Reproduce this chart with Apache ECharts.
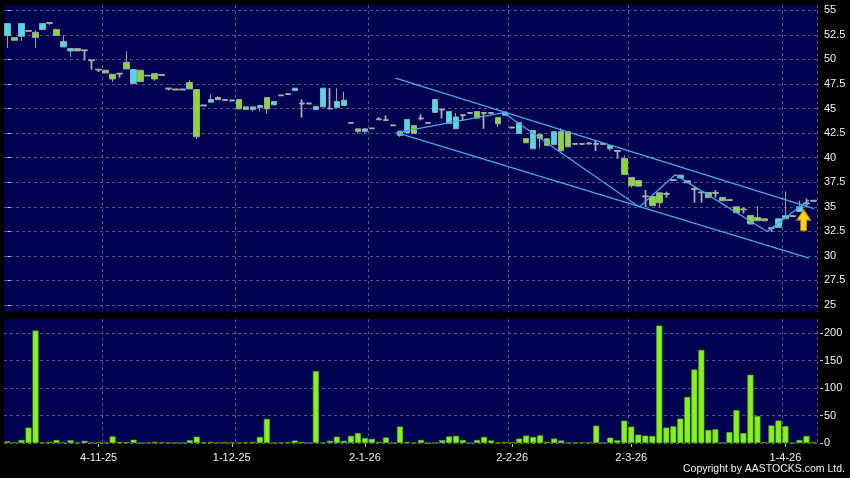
<!DOCTYPE html>
<html><head><meta charset="utf-8">
<script src="https://cdn.jsdelivr.net/npm/echarts@6/dist/echarts.min.js"></script>
<style>html,body{margin:0;padding:0;background:#000;}#c{width:850px;height:478px;}</style>
</head><body><div id="c"></div>
<script>
// [open, close, low, high]
const candles = [
[52.43,53.65,51.17,53.65],[52.22,51.95,51.95,52.22],[52.36,53.65,51.88,53.65],[52.90,52.90,52.90,52.90],
[52.76,52.22,51.17,52.97],[53.04,53.65,53.04,53.65],[53.71,53.71,53.55,53.71],[53.04,52.43,52.43,53.04],
[51.27,51.82,51.27,52.46],[50.86,51.10,50.25,51.10],[51.10,50.86,50.86,51.10],[50.93,50.93,49.92,50.93],
[49.90,49.90,48.97,49.90],[48.97,48.97,48.73,48.97],[48.90,48.62,48.62,48.90],[48.49,48.01,47.71,48.49],
[48.56,48.56,48.16,48.56],[49.71,49.03,49.03,50.83],[47.55,48.97,47.55,48.97],[48.90,47.75,47.75,48.90],
[48.36,48.36,48.36,48.36],[48.56,48.01,47.81,48.56],[48.42,48.42,48.42,48.42],[47.04,47.04,46.86,47.04],
[46.94,46.94,46.94,46.94],[46.94,46.94,46.94,46.94],[47.65,47.00,47.00,47.88],[46.94,42.12,41.91,46.94],
[45.31,45.31,45.31,45.31],[45.64,45.92,45.64,46.43],[46.12,45.90,45.90,46.25],[45.88,45.88,45.88,45.88],
[45.82,45.82,45.82,45.82],[45.92,44.96,44.96,45.92],[45.17,44.90,44.90,45.17],[44.90,45.17,44.70,45.17],
[45.11,45.31,44.70,45.31],[46.12,44.96,44.50,46.12],[45.37,45.72,45.37,45.72],[46.33,46.33,46.33,46.33],
[46.46,46.46,46.46,46.46],[46.83,47.07,46.83,47.07],[45.51,45.51,44.09,45.92],[45.51,45.51,45.51,45.51],
[44.90,45.21,44.90,45.21],[45.17,47.07,45.17,47.07],[45.00,45.00,45.00,47.07],[45.11,45.72,45.11,47.07],
[45.31,45.85,45.31,46.73],[43.55,43.55,43.55,43.55],[42.93,42.67,42.46,42.93],[42.67,42.93,42.46,42.93],
[42.97,42.97,42.97,42.97],[43.90,43.90,43.90,44.10],[43.81,43.81,43.81,44.29],[43.28,43.28,43.28,43.28],
[42.70,42.26,42.12,42.70],[42.52,43.89,42.52,43.89],[43.28,42.46,42.46,43.28],[43.99,43.99,43.81,44.39],
[43.55,43.55,43.55,43.55],[44.60,45.92,44.60,45.92],[44.90,44.90,43.99,44.90],[43.48,44.70,43.48,44.70],
[42.93,44.15,42.93,44.56],[44.32,44.32,43.81,44.32],[44.56,44.56,44.56,44.56],[44.70,44.02,44.02,44.70],
[44.56,44.56,42.95,44.56],[44.56,44.56,44.56,44.56],[44.09,43.44,43.13,44.09],[44.32,44.65,44.32,44.65],
[43.07,43.07,43.07,43.07],[42.46,43.58,42.46,43.58],[41.95,41.51,41.51,41.95],[40.90,42.77,40.90,42.77],
[42.37,41.95,40.94,42.37],[41.93,41.24,41.24,41.93],[41.33,42.64,41.33,42.64],[42.66,40.69,40.69,43.00],
[42.66,41.10,41.10,42.66],[41.40,41.40,41.40,41.40],[41.40,41.40,41.40,41.40],[41.44,41.44,41.44,41.60],
[41.40,41.40,40.69,41.78],[41.40,41.40,41.40,41.40],[40.90,41.24,40.69,41.24],[40.69,40.69,39.92,40.69],
[39.92,38.29,38.29,40.22],[37.99,37.15,36.97,37.99],[37.68,37.10,37.10,37.68],[36.05,36.05,35.00,36.70],
[36.05,35.11,35.11,36.05],[36.42,35.40,34.95,36.42],[36.31,36.31,35.95,36.52],[37.71,37.71,37.71,37.71],
[37.92,38.22,37.92,38.22],[37.44,37.64,37.44,37.64],[36.80,36.80,35.44,36.97],[36.46,36.46,35.44,36.46],
[36.46,35.95,35.95,36.46],[36.42,36.42,35.95,36.70],[35.95,35.61,35.61,35.95],[35.68,35.68,35.68,35.68],
[35.00,34.39,34.39,35.00],[34.73,34.73,34.33,34.94],[34.12,33.24,33.24,34.12],[33.92,33.57,33.57,35.07],
[33.78,33.57,33.57,33.78],[32.83,32.83,32.42,32.83],[32.90,33.78,32.90,33.78],[33.78,34.08,33.78,36.56],
[34.05,34.05,34.05,34.05],[34.53,35.00,34.53,35.61],[35.34,35.34,34.94,35.81],[35.61,35.61,35.61,35.61]
];
const volumes = [
3,1,5.5,28,205,0.5,2,5.5,1,5,0.5,4,0.5,1.5,0.3,12,2,1.5,6,0.5,
0.5,2,0.5,0.5,0.3,0.3,5,11.5,1.5,2,0.3,1,0.3,0.3,1,2,11,44,0.3,0.3,
1.5,4.5,2,0.3,131,0.5,4,11.5,4,13,18,9,7.5,2,10,0.3,30,2,0.3,5.5,
0.3,0.3,5,12,13,5.5,0.3,5.5,11,4.5,0.3,1.5,1.5,8,13.5,11,14,2,8,4.5,
0.3,0.3,1,0.3,31.5,0.3,9.7,4.9,40.7,29.8,15.2,13.4,12.8,214,28,30.4,44.4,84,134,169.6,
23.7,24.9,0.3,20,60,18.2,124.5,49.2,1.2,32,41,30.8,0.3,5.5,12.8,1.2
];
const categories = candles.map((_, i) => String(i));
const dateTicks = {13:'4-11-25', 32:'1-12-25', 51:'2-1-26', 72:'2-2-26', 89:'2-3-26', 111:'1-4-26'};
const monthLines = [14, 33, 52, 72, 89, 111];
const priceMin = 25, priceMax = 55, priceStep = 2.5;
const volMin = 0, volMax = 200, volStep = 50;
// trend lines in (candle index, price)
const upperChannel = [[55.36,48.09],[115.07,34.81]];
const lowerChannel = [[55.5,42.54],[114.36,29.78]];
const zigzag = [[55.5,42.54],[70.76,44.58],[90.14,34.97],[95.27,38.27],[108.38,32.48],[114.36,35.68]];
const arrowMark = [[113.6,33.65]];

const N = categories.length;
const navy = '#000050';
const gridLine = {color:'#55558e', type:[3,3], width:1};
const font = 'Liberation Sans';
const G = {left:4, right:33, outerBoundsMode:'none', containLabel:false};
const chart = echarts.init(document.getElementById('c'), null, {renderer:'canvas'});
const hideAll = {axisLine:{show:false}, axisTick:{show:false}, axisLabel:{show:false}, splitLine:{show:false}};
const dojiOnly = candles.map(c => (c[0] === c[1] ? c : '-'));
chart.setOption({
  animation:false,
  backgroundColor:'#000',
  textStyle:{fontFamily:font},
  grid:[
    Object.assign({top:5, height:306.7, show:true, backgroundColor:navy, borderWidth:0, z:-1}, G),
    Object.assign({top:10.3, height:294.7}, G),
    Object.assign({top:319.3, height:124.7, show:true, backgroundColor:navy, borderWidth:0, z:-1}, G),
    Object.assign({top:333.3, height:109.7}, G)
  ],
  xAxis:[
    Object.assign({type:'category', gridIndex:0, data:categories}, hideAll,
      {splitLine:{show:true, interval:(i)=>monthLines.includes(i), lineStyle:gridLine}}),
    {type:'category', gridIndex:1, data:categories, show:false},
    {type:'value', gridIndex:1, min:-0.5, max:N-0.5, show:false},
    Object.assign({type:'category', gridIndex:2, data:categories, position:'bottom', offset:2}, hideAll,
      {splitLine:{show:true, interval:(i)=>monthLines.includes(i), lineStyle:gridLine},
       axisTick:{show:true, alignWithLabel:true, length:3, interval:(i)=>(i in dateTicks), lineStyle:{color:'#bbbbbb'}},
       axisLabel:{show:true, interval:(i)=>(i in dateTicks), formatter:(v,i)=>dateTicks[i]||'', color:'#f0f0f0', fontSize:11, fontFamily:font, margin:6}}),
    {type:'category', gridIndex:3, data:categories, show:false}
  ],
  yAxis:[
    {type:'value', gridIndex:0, min:0, max:1, show:false},
    {type:'value', gridIndex:1, min:priceMin, max:priceMax, interval:priceStep, position:'right', offset:3,
      axisLine:{show:false}, axisTick:{show:true, length:3, lineStyle:{color:'#cccccc'}},
      axisLabel:{color:'#f0f0f0', fontSize:11, fontFamily:font, margin:4},
      splitLine:{show:true, lineStyle:gridLine}},
    {type:'value', gridIndex:2, min:0, max:1, show:false},
    {type:'value', gridIndex:3, min:volMin, max:volMax, interval:volStep, position:'right', offset:3,
      axisLine:{show:false}, axisTick:{show:true, length:3, lineStyle:{color:'#cccccc'}},
      axisLabel:{color:'#f0f0f0', fontSize:11, fontFamily:font, margin:4},
      splitLine:{show:true, lineStyle:gridLine}}
  ],
  series:[
    {type:'candlestick', xAxisIndex:1, yAxisIndex:1, data:candles, barWidth:6,
      itemStyle:{color:'#3fe0f2', color0:'#86dc2c', borderColor:'#a0a0a8', borderColor0:'#a0a0a8', borderColorDoji:'#a8a8b0', borderWidth:1}},
    {type:'candlestick', xAxisIndex:1, yAxisIndex:1, data:dojiOnly, barWidth:6, silent:true,
      itemStyle:{color:'#a8a8b0', color0:'#a8a8b0', borderColor:'#a8a8b0', borderColor0:'#a8a8b0', borderColorDoji:'#a8a8b0', borderWidth:1.8}},
    {type:'line', xAxisIndex:2, yAxisIndex:1, data:upperChannel, showSymbol:false, silent:true, lineStyle:{color:'#4aa6ea', width:1.3}},
    {type:'line', xAxisIndex:2, yAxisIndex:1, data:lowerChannel, showSymbol:false, silent:true, lineStyle:{color:'#4aa6ea', width:1.3}},
    {type:'line', xAxisIndex:2, yAxisIndex:1, data:zigzag, showSymbol:false, silent:true, lineStyle:{color:'#4aa6ea', width:1.3}},
    {type:'scatter', xAxisIndex:2, yAxisIndex:1, data:arrowMark, silent:true, z:5,
      symbol:'path://M7,0 L14,10 L10,10 L10,20 L4,20 L4,10 L0,10 Z', symbolSize:[14,21],
      itemStyle:{color:'#ffd21a', borderColor:'#c87800', borderWidth:1, opacity:1}},
    {type:'bar', xAxisIndex:4, yAxisIndex:3, data:volumes, barWidth:6, clip:false,
      itemStyle:{color:'#86f020', borderColor:'#5cb012', borderWidth:0.6}}
  ],
  graphic:[{type:'text', right:5, bottom:3,
    style:{text:'Copyright by AASTOCKS.com Ltd.', fill:'#f0f0f0', font:'10.5px "Liberation Sans"'}}]
});
</script></body></html>
